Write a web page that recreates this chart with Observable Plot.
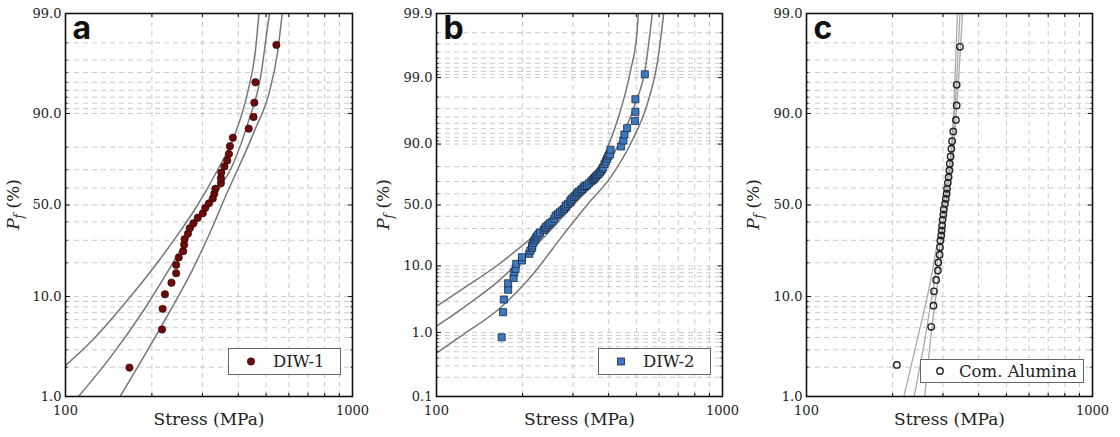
<!DOCTYPE html>
<html><head><meta charset="utf-8">
<script src="https://cdn.jsdelivr.net/npm/d3@7"></script>
<script src="https://cdn.jsdelivr.net/npm/@observablehq/plot@0.6"></script>
<style>
body{margin:0;background:#fff;}
#wrap{position:relative;width:1120px;height:437px;display:flex;overflow:hidden;}
#wrap svg{display:block;flex:none;}
.legend{position:absolute;background:#fff;border:1px solid #666;font-family:"DejaVu Serif",serif;font-size:16.5px;color:#222;display:flex;align-items:center;box-sizing:border-box;}
.legend svg{flex:none;}
</style></head><body><div id="wrap"></div><script>
// ---------- data ----------
const panelLetters = ["a", "b", "c"];
const seriesNames = ["DIW-1", "DIW-2", "Com. Alumina"];
const xLabel = "Stress (MPa)";
const xMajorTicks = [100, 1000];
const xMinorTicks = [200, 300, 400, 500, 600, 700, 800, 900];
const yMajorAC = [1, 10, 50, 90, 99];
const yMajorLabelsAC = ["1.0", "10.0", "50.0", "90.0", "99.0"];
const yMinorAC = [2, 3, 4, 5, 6, 7, 8, 9, 20, 30, 40, 60, 70, 80, 91, 92, 93, 94, 95, 96, 97, 98];
const yMajorB = [0.1, 1, 10, 50, 90, 99, 99.9];
const yMajorLabelsB = ["0.1", "1.0", "10.0", "50.0", "90.0", "99.0", "99.9"];
const yMinorB = [0.2, 0.3, 0.4, 0.5, 0.6, 0.7, 0.8, 0.9, 2, 3, 4, 5, 6, 7, 8, 9, 20, 30, 40, 60, 70, 80,
  91, 92, 93, 94, 95, 96, 97, 98, 99.1, 99.2, 99.3, 99.4, 99.5, 99.6, 99.7, 99.8];

// DIW-1 (panel a)
const diw1Stress = [167, 217, 218, 222, 234, 243, 243, 248, 257, 259, 260, 267, 271, 279, 289, 301, 307, 316,
  326, 330, 333, 348, 348, 349, 358, 366, 371, 374, 383, 435, 452, 455, 459, 543];
const diw1Pf = [1.98, 4.8, 7.64, 10.5, 13.4, 16.3, 19.2, 22.1, 24.8, 27.8, 30.6, 33.4, 36.4, 39.2, 42.4, 45.1, 48.3, 51.0,
  53.9, 56.7, 59.6, 62.8, 65.5, 68.5, 71.6, 74.4, 77.3, 80.4, 83.4, 86.2, 89.2, 92.1, 95.0, 97.9];
const fitAStress = [111, 143.5, 187, 232, 280, 328, 386, 435, 478, 504, 514];
const fitAPf = [1.0, 2.53, 7.37, 18.4, 37.0, 54.7, 73.6, 88.4, 95.5, 98.5, 99.0];
const upperAStress = [100, 125.5, 164, 214, 252, 288, 338, 386, 430, 459, 472];
const upperAPf = [2.08, 3.88, 9.18, 21.6, 35.2, 49.7, 69.6, 83.6, 93.5, 97.6, 99.0];
const lowerAStress = [155, 187, 232, 280, 325, 356, 459, 511, 547, 569];
const lowerAPf = [1.0, 2.53, 7.37, 18.4, 37.0, 52.7, 86.2, 93.5, 97.4, 99.0];

// DIW-2 (panel b)
const diw2Stress = [169, 171, 172, 178, 178, 186, 187, 189, 190, 199, 199, 211, 213, 216, 216, 218, 220, 222, 224, 227,
  230, 237, 240, 242, 246, 249, 254, 258, 261, 266, 270, 275, 279, 283, 283, 288, 294, 294, 297, 302, 306, 310, 314,
  319, 323, 327, 331, 336, 341, 348, 352, 355, 358, 361, 365, 369, 373, 377, 380, 383, 387, 391, 395, 399, 404, 406,
  442, 450, 454, 464, 494, 496, 496, 535];
const diw2Pf = [0.84, 2.05, 3.2, 4.5, 5.6, 6.7, 8.2, 9.1, 10.7, 11.9, 13.2, 14.7, 16.2, 17.5, 18.8, 20.3, 21.7, 23.0, 24.3, 25.7,
  27.0, 28.9, 30.2, 31.5, 32.8, 34.1, 35.5, 37.8, 40.6, 42.0, 43.5, 45.0, 46.5, 48.0, 49.5, 51.0, 52.5, 54.0, 55.6, 57.2, 58.5, 60.5, 61.8,
  62.8, 64.0, 65.5, 66.5, 67.1, 68.6, 70.2, 71.2, 72.0, 72.9, 73.7, 74.6, 75.5, 76.5, 77.6, 78.6, 79.6, 81.5, 82.8, 84.1, 85.3, 86.1, 88.0,
  89.2, 91.1, 92.7, 94.1, 95.4, 96.65, 97.84, 99.11];
const fitBStress = [101, 125, 163, 202, 250, 302, 374, 428, 490, 538, 568];
const fitBPf = [1.28, 2.45, 5.82, 13.2, 28.5, 50.5, 74.5, 88.9, 97.15, 99.31, 99.9];
const upperBStress = [101, 125, 163, 213, 264, 310, 346, 395, 440, 477, 503, 508];
const upperBPf = [2.6, 4.8, 10.14, 22.8, 39.2, 54.0, 68.2, 88.4, 96.8, 99.22, 99.815, 99.9];
const lowerBStress = [101, 125, 163, 213, 279, 336, 406, 477, 546, 591, 623];
const lowerBPf = [0.493, 0.95, 2.18, 6.89, 26.1, 50.0, 73.0, 90.1, 97.47, 99.388, 99.9];

// Com. Alumina (panel c)
const aluStress = [207, 273, 278, 279, 284, 288, 289, 292, 293, 294, 296, 297, 298, 299, 301, 302, 305, 307, 309, 310,
  312, 314, 316, 317, 319, 321, 323, 326, 333, 335, 335, 344];
const aluPf = [2.11, 5.1, 8.2, 11.2, 14.2, 17.2, 20.1, 23.3, 26.6, 29.9, 32.5, 35.1, 37.9, 41.2, 44.3, 47.3, 50.7, 53.7, 56.7, 59.6,
  63.0, 66.1, 69.6, 72.9, 76.2, 79.4, 82.2, 85.4, 88.5, 91.6, 94.7, 97.8];
const fitCStress = [238, 260, 280, 300, 315, 330, 344];
const fitCPf = [1.0, 4.0, 14.0, 38.0, 66.0, 90.0, 99.0];
const upperCStress = [219, 245, 270, 292, 310, 327, 337];
const upperCPf = [1.0, 4.0, 13.0, 36.0, 64.0, 90.0, 99.0];
const lowerCStress = [259, 272, 288, 305, 319, 334, 351];
const lowerCPf = [1.0, 4.0, 14.0, 39.0, 66.0, 90.0, 99.0];

// ---------- drawing ----------
const logit = p => Math.log(p / (1 - p));
const toRows = (s, p) => s.map((v, i) => ({s: v, l: logit(p[i] / 100)}));

function makePanel(cfg) {
  const yMaj = cfg.majors.map(p => logit(p / 100));
  const labelMap = new Map(yMaj.map((v, i) => [v, cfg.majorLabels[i]]));
  const yMin = cfg.minors.map(p => logit(p / 100));
  const gridY = [...yMin, ...yMaj.slice(1, -1)];
  const pts = toRows(cfg.stress, cfg.pf);
  const gridStyle = {stroke: "#c4c4c4", strokeOpacity: 1, strokeWidth: 0.9, strokeDasharray: "5,4"};
  const tickStyle = {stroke: "#111", label: null, fill: "none"};
  const svg = Plot.plot({
    width: cfg.width, height: 437,
    marginLeft: cfg.ml, marginRight: cfg.mr, marginTop: 13, marginBottom: 41,
    style: {fontFamily: "'DejaVu Serif', serif", fontSize: "13px", color: "#222", background: "white", overflow: "visible"},
    x: {type: "log", domain: [100, 1000]},
    y: {domain: [yMaj[0], yMaj[yMaj.length - 1]]},
    marks: [
      Plot.gridX(xMinorTicks, gridStyle),
      Plot.gridY(gridY, gridStyle),
      ...cfg.curves.map(c => Plot.line(toRows(c[0], c[1]), {x: "s", y: "l", stroke: cfg.lineColor, strokeWidth: cfg.lineWidth, curve: "monotone-x", clip: true})),
      Plot.dot(pts, {x: "s", y: "l", ...cfg.marker}),
      Plot.axisX(xMajorTicks, {anchor: "bottom", tickSize: 0, tickPadding: 9, tickFormat: d => String(d), label: null}),
      Plot.axisY(yMaj, {anchor: "left", tickSize: 0, tickPadding: 4, tickFormat: d => labelMap.get(d), label: null}),
      Plot.axisY(yMaj, {anchor: "left", tickSize: -5, ...tickStyle}),
      Plot.axisY(yMin, {anchor: "left", tickSize: -2.5, ...tickStyle}),
      Plot.axisY(yMaj, {anchor: "right", tickSize: -5, ...tickStyle}),
      Plot.axisY(yMin, {anchor: "right", tickSize: -2.5, ...tickStyle}),
      Plot.axisX(xMinorTicks, {anchor: "bottom", tickSize: -3, ...tickStyle}),
      Plot.axisX(xMinorTicks, {anchor: "top", tickSize: -3, ...tickStyle}),
      Plot.frame({stroke: "#111", strokeWidth: 1.6}),
      Plot.text([cfg.letter], {frameAnchor: "top-left", dx: 7, dy: 3, lineAnchor: "top", fontSize: 32, fontWeight: 700, fontFamily: "Inter, 'DejaVu Sans', sans-serif", fill: "#111"}),
      Plot.text([xLabel], {frameAnchor: "bottom", dy: 28, fontSize: 17, fill: "#222"})
    ]
  });
  // y label: P_f (%)
  const midY = (13 + 396) / 2;
  const t = d3.select(svg).append("text")
    .attr("transform", `translate(19,${midY}) rotate(-90)`)
    .attr("text-anchor", "middle")
    .attr("font-family", "'DejaVu Serif', serif")
    .attr("font-size", 17)
    .attr("fill", "#222");
  t.append("tspan").attr("font-style", "italic").text("P");
  t.append("tspan").attr("font-style", "italic").attr("font-size", 12).attr("dy", 4).text("f");
  t.append("tspan").attr("dy", -4).text(" (%)");
  return svg;
}

const wrap = document.getElementById("wrap");
wrap.append(makePanel({
  width: 370, ml: 65, mr: 18, letter: panelLetters[0],
  majors: yMajorAC, majorLabels: yMajorLabelsAC, minors: yMinorAC,
  stress: diw1Stress, pf: diw1Pf,
  curves: [[upperAStress, upperAPf], [fitAStress, fitAPf], [lowerAStress, lowerAPf]],
  lineColor: "#777", lineWidth: 1.5,
  marker: {r: 3.7, fill: "#6b0c0c", stroke: "#2a0000", strokeWidth: 0.6}
}));
wrap.append(makePanel({
  width: 370, ml: 66, mr: 18, letter: panelLetters[1],
  majors: yMajorB, majorLabels: yMajorLabelsB, minors: yMinorB,
  stress: diw2Stress, pf: diw2Pf,
  curves: [[upperBStress, upperBPf], [fitBStress, fitBPf], [lowerBStress, lowerBPf]],
  lineColor: "#777", lineWidth: 1.5,
  marker: {r: 4.0, symbol: "square", fill: "#3d79c2", stroke: "#1b2a3d", strokeWidth: 0.8}
}));
wrap.append(makePanel({
  width: 380, ml: 66, mr: 28, letter: panelLetters[2],
  majors: yMajorAC, majorLabels: yMajorLabelsAC, minors: yMinorAC,
  stress: aluStress, pf: aluPf,
  curves: [[upperCStress, upperCPf], [fitCStress, fitCPf], [lowerCStress, lowerCPf]],
  lineColor: "#aaa", lineWidth: 1.3,
  marker: {r: 3.2, fill: "none", stroke: "#222", strokeWidth: 1.4}
}));

// legends
function legend(name, left, top, w, h, markerW, markerSvg) {
  const d = document.createElement("div");
  d.className = "legend";
  Object.assign(d.style, {left: left + "px", top: top + "px", width: w + "px", height: h + "px"});
  d.innerHTML = `<svg width="${markerW}" height="${h - 2}">${markerSvg(markerW / 2, (h - 2) / 2)}</svg><span>${name}</span>`;
  wrap.append(d);
}
legend(seriesNames[0], 228, 348, 113, 27, 44, (cx, cy) => `<circle cx="${cx}" cy="${cy}" r="3.7" fill="#6b0c0c" stroke="#2a0000" stroke-width="0.6"/>`);
legend(seriesNames[1], 598, 348, 113, 27, 44, (cx, cy) => `<rect x="${cx - 3.5}" y="${cy - 3.5}" width="7" height="7" fill="#3d79c2" stroke="#1b2a3d" stroke-width="0.8"/>`);
legend(seriesNames[2], 920, 359, 164, 24, 38, (cx, cy) => `<circle cx="${cx}" cy="${cy}" r="3.2" fill="none" stroke="#222" stroke-width="1.4"/>`);
</script></body></html>
